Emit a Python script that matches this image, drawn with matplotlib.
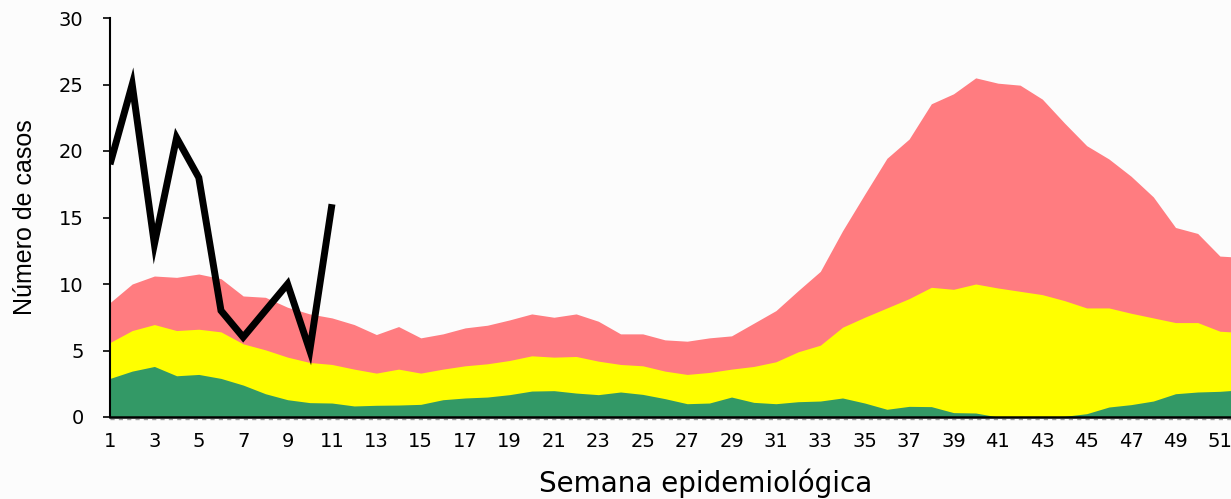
import matplotlib
matplotlib.use("Agg")
import matplotlib.pyplot as plt
import matplotlib.transforms as mtransforms

weeks = list(range(1, 53))
green_top = [2.9, 3.45, 3.8, 3.1, 3.2, 2.9, 2.4, 1.75, 1.3, 1.08,
             1.05, 0.83, 0.88, 0.9, 0.95, 1.3, 1.43, 1.5, 1.68, 1.95,
             1.98, 1.8, 1.68, 1.88, 1.7, 1.38, 1.0, 1.05, 1.5, 1.1,
             1.0, 1.15, 1.2, 1.43, 1.05, 0.58, 0.8, 0.78, 0.33, 0.3,
             0.0, 0.0, 0.0, 0.05, 0.25, 0.75, 0.93, 1.2, 1.75, 1.88,
             1.93, 2.05]
yellow_top = [5.6, 6.5, 6.95, 6.5, 6.6, 6.4, 5.5, 5.05, 4.5, 4.1,
              3.95, 3.6, 3.3, 3.6, 3.3, 3.6, 3.85, 4.0, 4.25, 4.6,
              4.5, 4.55, 4.2, 3.95, 3.85, 3.45, 3.2, 3.35, 3.6, 3.8,
              4.15, 4.9, 5.4, 6.75, 7.5, 8.2, 8.9, 9.75, 9.6, 10.0,
              9.7, 9.45, 9.2, 8.75, 8.2, 8.2, 7.8, 7.45, 7.1, 7.1,
              6.45, 6.35]
red_top = [8.6, 10.0, 10.6, 10.5, 10.75, 10.4, 9.1, 9.0, 8.25, 7.75,
           7.45, 6.95, 6.2, 6.8, 5.95, 6.25, 6.7, 6.9, 7.3, 7.75,
           7.5, 7.75, 7.2, 6.25, 6.25, 5.8, 5.7, 5.95, 6.1, 7.05,
           8.0, 9.5, 10.95, 14.0, 16.75, 19.45, 20.9, 23.55, 24.3, 25.5,
           25.1, 24.95, 23.9, 22.1, 20.4, 19.4, 18.1, 16.55, 14.25, 13.8,
           12.1, 12.0]
case_weeks = list(range(1, 12))
cases = [19, 25, 13, 21, 18, 8, 6, 8, 10, 5, 16]

x_ticks = list(range(1, 53, 2))
y_ticks = [0, 5, 10, 15, 20, 25, 30]

bg = "#fcfcfc"
fig = plt.figure(figsize=(12.31, 4.99), dpi=100, facecolor=bg)
ax = fig.add_axes([110 / 1231, 82 / 499, 1 - 110 / 1231, 399 / 499])
ax.set_facecolor(bg)

ax.fill_between(weeks, 0, red_top, color="#ff7c80", linewidth=0)
ax.fill_between(weeks, 0, yellow_top, color="#ffff00", linewidth=0)
ax.fill_between(weeks, 0, green_top, color="#339966", linewidth=0)
ax.plot(case_weeks, cases, color="black", linewidth=5.0, solid_joinstyle="miter",
        solid_capstyle="butt", zorder=5)

# faint dashed line just below the baseline
off = mtransforms.ScaledTranslation(0, -2 / 100, fig.dpi_scale_trans)
ax.plot([0, 1], [0, 0], color="#a0a0a0", linewidth=1.0, linestyle=(0, (3, 3)),
        transform=ax.transAxes + off, clip_on=False, zorder=6)

ax.set_xlim(1, 51.5)
ax.set_ylim(0, 30)
ax.set_xticks(x_ticks)
ax.set_yticks(y_ticks)

for s in ["top", "right"]:
    ax.spines[s].set_visible(False)
ax.spines["left"].set_linewidth(1.5)
ax.spines["bottom"].set_linewidth(1.8)
ax.spines["left"].set_zorder(7)
ax.spines["bottom"].set_zorder(7)

ax.tick_params(axis="y", direction="out", length=5, width=1.2, pad=14,
               labelsize=14, colors="black")
ax.tick_params(axis="x", length=0, pad=11, labelsize=14, colors="black")
for lab in ax.get_xticklabels() + ax.get_yticklabels():
    lab.set_family("DejaVu Sans")

ax.set_xlabel("Semana epidemiológica", fontsize=20, family="DejaVu Sans")
ax.xaxis.set_label_coords(0.531, -0.128)
ax.set_ylabel("Número de casos", fontsize=18, family="Liberation Sans", labelpad=16)

fig.savefig("out.png", dpi=100, facecolor=bg)
